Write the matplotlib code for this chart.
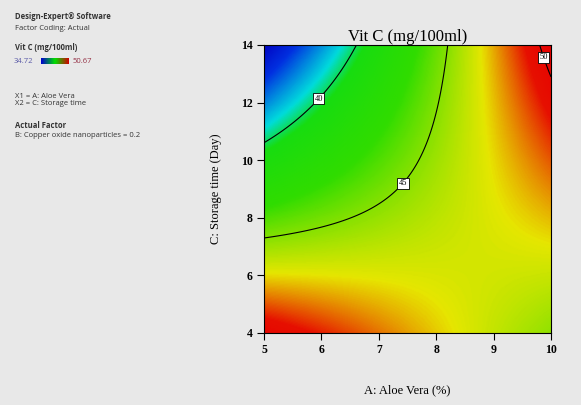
import matplotlib
matplotlib.use("Agg")
import matplotlib.pyplot as plt
import numpy as np
from matplotlib.colors import LinearSegmentedColormap

# factor levels (A: aloe vera %, C: storage time days) and Vit C readings
aloe_levels = [5, 6, 7, 8, 9, 10]
storage_levels = [4, 6, 8, 10, 12, 14]
vitc_grid = [
    [49.1, 49.2, 48.4, 47.2, 46.3, 45.6],   # day 4
    [47.6, 47.0, 46.6, 46.3, 46.1, 45.9],   # day 6
    [44.2, 44.6, 45.4, 46.1, 46.7, 47.2],   # day 8
    [40.9, 42.5, 44.0, 45.6, 47.0, 48.2],   # day 10
    [37.9, 40.1, 42.6, 44.9, 47.1, 49.5],   # day 12
    [34.8, 38.1, 41.1, 44.4, 47.3, 51.1],   # day 14
]
vitc_min, vitc_max = 34.72, 50.67
contour_levels = [40, 45, 50]
label_spots = [(5.94, 12.16), (7.42, 9.2), (9.9, 13.6)]

BG = "#e8e8e8"

# quadratic response surface fitted to the readings
A, C = np.meshgrid(aloe_levels, storage_levels)
a, c, v = A.ravel(), C.ravel(), np.array(vitc_grid).ravel()
X = np.column_stack([np.ones_like(a), a, c, a * c, a ** 2, c ** 2])
coef, *_ = np.linalg.lstsq(X, v, rcond=None)

ga, gc = np.meshgrid(np.linspace(5, 10, 300), np.linspace(4, 14, 300))
surf = (coef[0] + coef[1] * ga + coef[2] * gc + coef[3] * ga * gc
        + coef[4] * ga ** 2 + coef[5] * gc ** 2)

de_cmap = LinearSegmentedColormap.from_list(
    "de", [(0.0, "#0000c0"), (0.12, "#0030e0"), (0.28, "#00dcdc"),
           (0.36, "#18dc10"), (0.54, "#30dc00"), (0.76, "#e6e600"),
           (0.91, "#e61000"), (1.0, "#e60000")])

fig = plt.figure(figsize=(5.81, 4.05), dpi=100, facecolor=BG)
ax = fig.add_axes([0.4544, 0.1778, 0.494, 0.7111])
ax.pcolormesh(ga, gc, surf, cmap=de_cmap, vmin=vitc_min, vmax=vitc_max,
              shading="gouraud", rasterized=True)
cs = ax.contour(ga, gc, surf, levels=contour_levels, colors="black",
                linewidths=0.8)
labels = ax.clabel(cs, fmt="%d", fontsize=6, inline=False,
                   manual=label_spots)
for t in labels:
    t.set_rotation(0)
    t.set_bbox(dict(facecolor="white", edgecolor="black", pad=1.0, lw=0.6))
    t.set_fontfamily("Liberation Serif")

ax.set_xlim(5, 10)
ax.set_ylim(4, 14)
ax.set_xticks(aloe_levels)
ax.set_yticks(storage_levels)
ax.tick_params(direction="out", length=5, width=0.8, labelsize=8.5, pad=3)
for lab in ax.get_xticklabels() + ax.get_yticklabels():
    lab.set_fontfamily("Liberation Serif")
    lab.set_fontweight("bold")
for s in ax.spines.values():
    s.set_linewidth(0.8)

ax.set_title("Vit C (mg/100ml)", fontsize=12, family="Liberation Serif", pad=3)
ax.set_xlabel("A: Aloe Vera (%)", fontsize=9, family="Liberation Serif",
              labelpad=20)
ax.set_ylabel("C: Storage time (Day)", fontsize=9, family="Liberation Serif",
              labelpad=14)

# legend panel on the left
txt = dict(family="Open Sans", fontsize=5.5, color="#333333", va="baseline")
fig.text(15 / 581, 1 - 19 / 405, "Design-Expert® Software", weight="bold", **txt)
fig.text(15 / 581, 1 - 30 / 405, "Factor Coding: Actual", **txt)
fig.text(15 / 581, 1 - 50 / 405, "Vit C (mg/100ml)", weight="bold", **txt)
fig.text(14 / 581, 1 - 63 / 405, f"{vitc_min:.2f}", color="#5a5aa8",
         family="Open Sans", fontsize=5.5, va="baseline")
fig.text(73 / 581, 1 - 63 / 405, f"{vitc_max:.2f}", color="#963246",
         family="Open Sans", fontsize=5.5, va="baseline")
cax = fig.add_axes([41 / 581, 1 - 64 / 405, 28 / 581, 6 / 405])
cax.imshow(np.linspace(0, 1, 100)[None, :], aspect="auto",
           cmap=LinearSegmentedColormap.from_list("bar", ["#0000d0", "#00e000", "#d00000"]))
cax.set_axis_off()
fig.text(15 / 581, 1 - 98 / 405, "X1 = A: Aloe Vera", **txt)
fig.text(15 / 581, 1 - 105 / 405, "X2 = C: Storage time", **txt)
fig.text(15 / 581, 1 - 128 / 405, "Actual Factor", weight="bold", **txt)
fig.text(15 / 581, 1 - 137 / 405, "B: Copper oxide nanoparticles = 0.2", **txt)

fig.savefig("out.png", dpi=100, facecolor=BG)
